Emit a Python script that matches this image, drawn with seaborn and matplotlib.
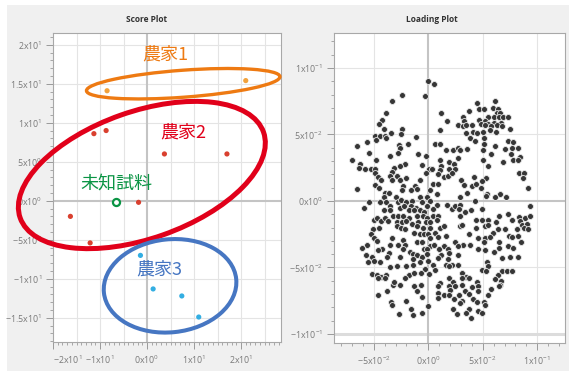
import numpy as np
import pandas as pd
import matplotlib
matplotlib.use("Agg")
import matplotlib.pyplot as plt
import matplotlib.transforms as mtransforms
from matplotlib.patches import Ellipse, Rectangle
from matplotlib.ticker import MultipleLocator, FuncFormatter, FixedLocator
import seaborn as sns

# ---- Score plot (PC1 / PC2 scores) ----
farm1_x = [-8.5, 21.0]
farm1_y = [14.1, 15.4]
farm2_x = [-11.3, -8.7, 3.7, 17.0, -16.3, -12.1, -1.8]
farm2_y = [8.6, 9.0, 6.0, 6.0, -2.0, -5.4, -0.2]
farm3_x = [-1.4, 1.3, 7.4, 11.0]
farm3_y = [-7.0, -11.3, -12.2, -14.9]
unknown_x = [-6.7]
unknown_y = [-0.2]
group_labels = ["農家1", "農家2", "農家3"]
unknown_label = "未知試料"

# ---- Loading plot (values in units of 1e-3) ----
load_x_e3 = [
    0, 5, -24, -3, -33, -39, -42, -45, -41, -24, -34, -25, -49, -44, -40, -48, -39, -11, -56, -65,
    -27, -19, -26, 6, -28, -54, -35, -9, -2, -70, -48, -21, -6, -63, -64, -58, -53, -49, -31, -26,
    1, 3, -49, -33, -35, -2, -29, -46, -43, -33, -26, -20, -8, -49, -45, -23, -12, 4, -65, -40,
    -36, -24, -16, -10, 2, 8,
    45, 61, 37, 47, 51, 59, 64, 12, 63, 66, 17, 32, 33, 47, 55, 60, 65, 69, 73, 52,
    55, 60, 67, 27, 32, 35, 40, 48, 52, 58, 63, 68, 11, 35, 41, 45, 50, 57, 62, 75,
    38, 43, 51, 51, 11, 73, 78,
    16, 23, 27, 29, 36, 50, 61, 70, 77, 82, 27, 58, 76, 84, 11, 19, 50, 78, 82, 69,
    12, 24, 55, 11, 19, 25, 83, 88, 9, 14, 18, 22, 42, 53, 87, 30, 49, 9, 33, 40,
    44, 92, 48, 36, 54, 66,
    -41, -30, -8, -1, -54, -44, -39, -28, -25, -20, -15, -6, 2, -59, -35, -26, -22, -16, -11, -1,
    8, -41, -35, -18, -13, -8, -4, 4, -50, -47, -43, -40, -37, -32, -28, -23, -18, -10, -5, -1,
    4, 9, -29, -24, -20, -15, -9, -2, 2, 8, -51, -45, -29, -25, -21, -10, -5, 2, -53, -13,
    -8, -4, 0, 6, -50, -47, -33, -23, 2, 9, -56, -61, -42, -35, -28, -21, -10, -6, 2, 5,
    -46, -36, -23, -17, -4, -1, -57, -52, -38, -26, -14, -10, -6, -1, -55, -50, -44, -14,
    -8, 0, -14, 4, -35, -29, -20, -3, -52, -47, -43, -39, -18, -13, -7, 1, 6, -46, -40,
    -21, -32, -26, -31, -13, -7, -38, -10, -46, -6, -34, -33, -20, 0, -16, -27, -14, -6,
    29, 43, 53, 61, 71, 17, 22, 25, 29, 28, 34, 39, 49, 65, 73, 83, 89, 93, 93, 29,
    44, 49, 55, 77, 84, 86, 91, 88, 92, 11, 14, 29, 31, 44, 52, 55, 62, 64, 70, 81,
    59, 37, 16, 46, 52, 57, 74, 77, 82, 85, 25, 32, 38, 27, 51, 65, 14, 18, 10, 46,
    52, 65, 73, 78, 19, 27, 12, 9, 18, 60, 68, 75, 82, 54, 16, 22, 27, 19, 55, 49,
    53, 68, 72, 77, 31, 35, 64, 19, 31, 37, 61, 67, 11, 23, 45, 66, 9, 19, 25, 31,
    46, 40, 65, 9, 20, 34, 46, 58, 14, 19, 28, 37, 55, 9, 24, 31, 41, 29, 45, 51,
    52, 23, 37, 46, 26, 35, 49, 39,
]
load_y_e3 = [
    90, 88, 80, 79, 75, 66, 61, 58, 54, 54, 51, 50, 49, 49, 49, 46, 47, 48, 44, 41,
    42, 43, 40, 43, 36, 36, 34, 35, 34, 31, 31, 28, 27, 28, 25, 24, 24, 24, 25, 26,
    24, 24, 21, 22, 19, 21, 19, 18, 16, 16, 16, 17, 16, 12, 10, 11, 11, 13, 9, 6,
    6, 8, 8, 9, 8, 5,
    74, 75, 68, 69, 69, 70, 69, 66, 66, 66, 60, 63, 60, 61, 63, 63, 63, 63, 63, 60,
    58, 59, 59, 57, 56, 57, 57, 58, 57, 56, 57, 56, 53, 51, 52, 51, 52, 53, 52, 54,
    47, 45, 47, 43, 43, 45, 44,
    38, 38, 40, 38, 39, 38, 41, 39, 40, 40, 32, 35, 35, 33, 31, 29, 31, 31, 31, 29,
    26, 28, 26, 23, 24, 24, 21, 21, 20, 18, 19, 21, 18, 17, 17, 16, 15, 13, 12, 11,
    13, 10, 10, 6, 5, 5,
    3, 3, 3, 3, -1, -1, -1, -1, 1, -1, 0, -1, 0, -5, -4, -5, -4, -4, -5, -4,
    -3, -7, -7, -7, -7, -7, -8, -6, -14, -13, -15, -13, -15, -11, -11, -11, -13, -11, -11, -13,
    -11, -11, -16, -16, -15, -17, -16, -16, -16, -14, -21, -20, -19, -20, -21, -19, -20, -20, -25, -24,
    -25, -25, -25, -24, -28, -30, -28, -29, -28, -27, -33, -35, -36, -33, -33, -33, -31, -31, -34, -33,
    -37, -39, -36, -38, -36, -36, -41, -42, -42, -42, -40, -41, -42, -40, -46, -45, -46, -44,
    -46, -45, -48, -48, -50, -49, -49, -51, -55, -56, -57, -56, -56, -54, -54, -55, -52, -58, -58,
    -58, -63, -63, -61, -64, -63, -68, -68, -71, -72, -76, -78, -75, -79, -81, -85, -86, -84,
    3, 0, 4, 3, 3, -3, -6, -4, -3, -6, -8, -7, -6, -11, -10, -12, -13, -11, -4, -11,
    -14, -14, -14, -14, -15, -18, -17, -20, -21, -20, -19, -19, -18, -20, -19, -18, -16, -21, -21, -21,
    -24, -25, -26, -28, -28, -27, -26, -27, -26, -31, -31, -33, -33, -34, -31, -31, -34, -36, -36, -36,
    -37, -35, -34, -35, -39, -41, -41, -43, -44, -38, -43, -42, -42, -46, -48, -48, -48, -49, -49, -52,
    -53, -53, -53, -53, -54, -57, -56, -58, -58, -58, -59, -60, -62, -61, -61, -63, -64, -64, -64, -63,
    -64, -65, -64, -69, -67, -68, -68, -66, -71, -71, -71, -70, -71, -73, -74, -75, -74, -77, -76, -76,
    -78, -81, -81, -83, -85, -84, -84, -88,
]

W, H, DPI = 569, 371, 100

sns.set_theme(style="white")
plt.rcParams["font.family"] = ["Open Sans", "Noto Sans CJK JP", "DejaVu Sans"]
plt.rcParams["mathtext.default"] = "regular"

ORANGE_DOT, RED_DOT, BLUE_DOT = "#F2A23C", "#D9402F", "#33AEE2"
ORANGE, RED, BLUE, GREEN = "#EE7A12", "#E1001A", "#4676C2", "#0A9444"
GRID, ZERO, SPINE, TICK, LABEL = "#E4E4E4", "#C4C4C4", "#A8A8A8", "#9A9A9A", "#7A7A7A"


def sci_label(v, pos=None):
    if abs(v) < 1e-12:
        return r"$0x10^{0}$"
    e = int(np.floor(np.log10(abs(v)) + 1e-9))
    m = v / 10.0 ** e
    return rf"${m:.6g}x10^{{{e}}}$"


def style_axes(ax, xlim, ylim, xmajor, ymajor, xminor, yminor, xgrid, ygrid):
    ax.set_xlim(*xlim)
    ax.set_ylim(*ylim)
    ax.set_facecolor("#FFFFFF")
    ax.xaxis.set_major_locator(FixedLocator(xmajor))
    ax.yaxis.set_major_locator(FixedLocator(ymajor))
    ax.xaxis.set_minor_locator(MultipleLocator(xminor))
    ax.yaxis.set_minor_locator(MultipleLocator(yminor))
    ax.xaxis.set_major_formatter(FuncFormatter(sci_label))
    ax.yaxis.set_major_formatter(FuncFormatter(sci_label))
    ax.tick_params(which="major", direction="out", length=5, width=0.7,
                   color=TICK, labelcolor=LABEL, labelsize=6.4, pad=3)
    ax.tick_params(which="minor", direction="out", length=2.5, width=0.6, color=TICK)
    ax.tick_params(axis="both", which="both", bottom=True, left=True, top=False, right=False)
    for s in ax.spines.values():
        s.set_color(SPINE)
        s.set_linewidth(0.8)
    for g in xgrid:
        ax.axvline(g, color=GRID, lw=0.8, zorder=0.5)
    for g in ygrid:
        ax.axhline(g, color=GRID, lw=0.8, zorder=0.5)
    ax.axvline(0, color=ZERO, lw=1.5, zorder=0.6)
    ax.axhline(0, color=ZERO, lw=1.5, zorder=0.6)
    ax.set_xlabel("")
    ax.set_ylabel("")


def ring(ax, center, w, h, angle, color, lw):
    # ellipse sized in pixels, anchored at a data-space centre
    tr = mtransforms.ScaledTranslation(center[0], center[1], ax.transData)
    ax.add_patch(Ellipse((0, 0), w, h, angle=angle, transform=tr, fill=False,
                         ec=color, lw=lw, clip_on=False, zorder=6))


fig = plt.figure(figsize=(W / DPI, H / DPI), dpi=DPI, facecolor="white")
fig.add_artist(Rectangle((7 / W, 0), 1, 1 - 5 / H, transform=fig.transFigure,
                         facecolor="#F0F0F0", edgecolor="none", zorder=-10))

ax1 = fig.add_axes([53 / W, 1 - 342 / H, 228 / W, 309 / H])
ax2 = fig.add_axes([334 / W, 1 - 343 / H, 231 / W, 310 / H])

# ---- score plot ----
score_df = pd.DataFrame({
    "PC1": farm1_x + farm2_x + farm3_x,
    "PC2": farm1_y + farm2_y + farm3_y,
    "group": [group_labels[0]] * len(farm1_x) + [group_labels[1]] * len(farm2_x)
             + [group_labels[2]] * len(farm3_x),
})
style_axes(ax1, (-20, 28.5), (-18.1, 21.5),
           [-20, -10, 0, 10, 20], [-15, -10, -5, 0, 5, 10, 15, 20], 1, 1,
           [-15, -10, -5, 5, 10, 15, 20, 25], [-15, -10, -5, 5, 10, 15, 20])
sns.scatterplot(data=score_df, x="PC1", y="PC2", hue="group",
                palette={group_labels[0]: ORANGE_DOT, group_labels[1]: RED_DOT,
                         group_labels[2]: BLUE_DOT},
                s=14, edgecolor="none", legend=False, ax=ax1, zorder=3)
sns.scatterplot(x=unknown_x, y=unknown_y, color="white", edgecolor=GREEN,
                linewidth=1.6, s=26, legend=False, ax=ax1, zorder=4)
ax1.set_xlabel("")
ax1.set_ylabel("")

ring(ax1, (7.7, 15.0), 194, 27, 4.2, ORANGE, 2.4)
ring(ax1, (-1.1, 3.3), 258, 127, 19.4, RED, 3.6)
ring(ax1, (4.9, -10.9), 133, 93, 6, BLUE, 2.9)

cjk = ["Noto Sans CJK JP", "DejaVu Sans"]
ax1.text(3.8, 18.7, group_labels[0], color=ORANGE, fontsize=13, ha="center", va="center", family=cjk, zorder=7)
ax1.text(7.7, 8.7, group_labels[1], color=RED, fontsize=13, ha="center", va="center", family=cjk, zorder=7)
ax1.text(2.6, -8.8, group_labels[2], color=BLUE, fontsize=13, ha="center", va="center", family=cjk, zorder=7)
ax1.text(-6.6, 2.2, unknown_label, color=GREEN, fontsize=13, ha="center", va="center", family=cjk, zorder=7)

# ---- loading plot ----
load_x = np.array(load_x_e3) * 1e-3
load_y = np.array(load_y_e3) * 1e-3
style_axes(ax2, (-0.0865, 0.1255), (-0.1068, 0.1263),
           [-0.05, 0, 0.05, 0.1], [-0.1, -0.05, 0, 0.05, 0.1], 0.01, 0.01,
           [-0.05, 0.05, 0.1], [-0.05, 0.05, 0.1])
ax2.axhline(-0.1, color="#DCDCDC", lw=2.2, zorder=0.55)
sns.scatterplot(x=load_x, y=load_y, color="#363636", edgecolor="#E6E6E6",
                linewidth=0.6, s=18, legend=False, ax=ax2, zorder=3)
ax2.set_xlabel("")
ax2.set_ylabel("")

fig.text(147 / W, 1 - 19 / H, "Score Plot", ha="center", va="center",
         fontsize=6, fontweight="bold", color="#333333")
fig.text(432 / W, 1 - 19 / H, "Loading Plot", ha="center", va="center",
         fontsize=6, fontweight="bold", color="#333333")

fig.canvas.draw()
ax1.xaxis.get_major_ticks()[0].label1.set_horizontalalignment("left")

fig.savefig("out.png", dpi=DPI, facecolor=fig.get_facecolor())
